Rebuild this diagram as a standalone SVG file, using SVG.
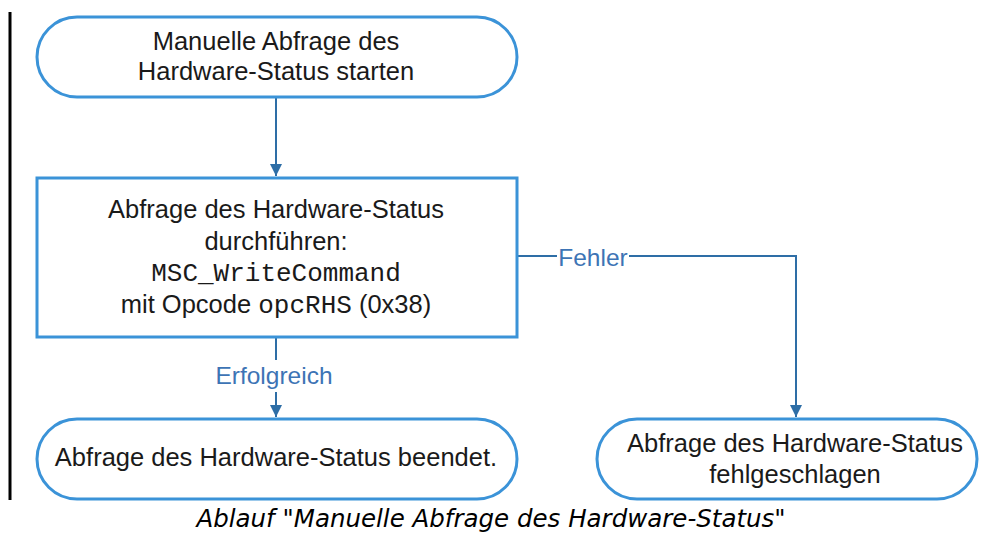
<svg xmlns="http://www.w3.org/2000/svg" width="988" height="538" viewBox="0 0 988 538">
<defs>
<marker id="arr" viewBox="0 0 10 10" refX="10" refY="5" markerWidth="12" markerHeight="12" markerUnits="userSpaceOnUse" orient="auto">
<path d="M0,0 L10,5 L0,10 z" fill="#2e6ea6"/>
</marker>
<style>
.node{fill:#fff;stroke:#3b93d8;stroke-width:3}
.t{font-family:"Liberation Sans",Arial,sans-serif;font-size:25.5px;fill:#1a1a1a;text-anchor:middle}
.m{font-family:"Liberation Mono","Courier New",monospace;font-size:26px}
.c{fill:none;stroke:#2e6ea6;stroke-width:2}
.lbl{font-family:"Liberation Sans",Arial,sans-serif;font-size:24.5px;fill:#3d74b5;text-anchor:middle}
.cap{font-family:"DejaVu Sans",Verdana,sans-serif;font-style:italic;font-size:24.5px;fill:#000;text-anchor:middle}
</style>
</defs>
<rect x="0" y="0" width="988" height="538" fill="#fff"/>
<line x1="10" y1="12" x2="10" y2="500" stroke="#000" stroke-width="3"/>
<g id="connectors">
<line class="c" x1="276" y1="98" x2="276" y2="176" marker-end="url(#arr)"/>
<line class="c" x1="276" y1="338" x2="276" y2="360"/>
<line class="c" x1="276" y1="392" x2="276" y2="417" marker-end="url(#arr)"/>
<text class="lbl" x="274" y="384">Erfolgreich</text>
<polyline class="c" points="518,256 557,256"/>
<polyline class="c" points="629,256 796,256 796,417" marker-end="url(#arr)"/>
<text class="lbl" x="593" y="266">Fehler</text>
</g>
<g id="start">
<rect class="node" x="37" y="17" width="480" height="80" rx="40"/>
<text class="t" x="276" y="50">Manuelle Abfrage des</text>
<text class="t" x="276" y="80">Hardware-Status starten</text>
</g>
<g id="process">
<rect class="node" x="37" y="178" width="480" height="159"/>
<text class="t" x="276" y="218">Abfrage des Hardware-Status</text>
<text class="t" x="276" y="250">durchführen:</text>
<text class="t m" x="276" y="281">MSC_WriteCommand</text>
<text class="t" x="276" y="313">mit Opcode <tspan class="m">opcRHS</tspan> (0x38)</text>
</g>
<g id="end-ok">
<rect class="node" x="37" y="419" width="480" height="80" rx="40"/>
<text class="t" x="276" y="466">Abfrage des Hardware-Status beendet.</text>
</g>
<g id="end-fail">
<rect class="node" x="597" y="419" width="380" height="80" rx="40"/>
<text class="t" x="795" y="452">Abfrage des Hardware-Status</text>
<text class="t" x="795" y="483">fehlgeschlagen</text>
</g>
<text class="cap" x="491" y="527">Ablauf "Manuelle Abfrage des Hardware-Status"</text>
</svg>
